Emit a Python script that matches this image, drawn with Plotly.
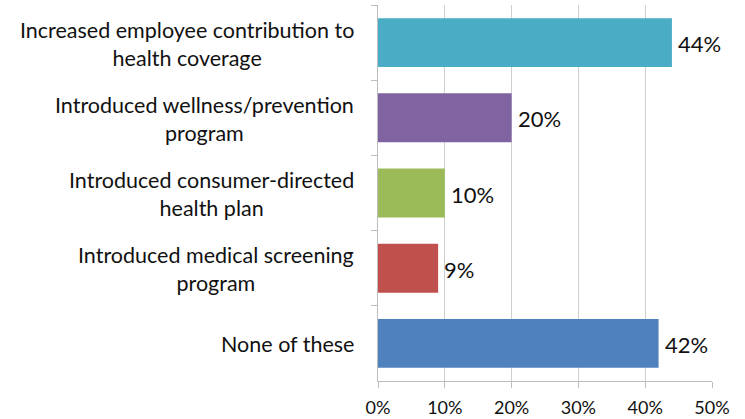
import plotly.graph_objects as go

categories = [
    "Increased employee contribution to<br>health coverage",
    "Introduced wellness/prevention<br>program",
    "Introduced consumer-directed<br>health plan",
    "Introduced medical screening<br>program",
    "None of these",
]
values = [44, 20, 10, 9, 42]
value_labels = ["44%", "20%", "10%", "9%", "42%"]
colors = ["#4BACC6", "#8064A2", "#9BBB59", "#C0504D", "#4F81BD"]
x_ticks = [0, 10, 20, 30, 40, 50]
x_tick_labels = ["0%", "10%", "20%", "30%", "40%", "50%"]

FONT = "Lato, 'Open Sans', sans-serif"

fig = go.Figure(
    go.Bar(
        y=categories,
        x=values,
        orientation="h",
        marker=dict(color=colors, line=dict(width=0)),
        width=0.65,
    )
)

# value labels just past the end of each bar
for cat, v, lab in zip(categories, values, value_labels):
    fig.add_annotation(
        x=v, xref="x", xanchor="left", xshift=4,
        y=cat, yref="y", yanchor="middle", yshift=-1,
        text=lab, showarrow=False,
        font=dict(size=22, color="#111111", family=FONT),
    )

# category labels: lines centered on each other, block right-aligned at the axis
for cat in categories:
    fig.add_annotation(
        x=0, xref="paper", xanchor="right", xshift=-22,
        y=cat, yref="y", yanchor="middle", yshift=-1,
        text=cat, showarrow=False, align="center",
        font=dict(size=21.5, color="#111111", family=FONT),
    )

fig.update_layout(
    width=745, height=419,
    margin=dict(l=378, r=33, t=5, b=38, autoexpand=False),
    paper_bgcolor="white", plot_bgcolor="white",
    showlegend=False,
    xaxis=dict(
        range=[0, 50], tickvals=x_ticks, ticktext=x_tick_labels,
        showgrid=True, gridcolor="#CFCFCF", gridwidth=1.3,
        showline=True, linecolor="#BDBDBD", linewidth=1.3,
        ticks="outside", ticklen=6, tickcolor="#BDBDBD",
        tickfont=dict(size=18, color="#111111", family=FONT),
        ticklabelstandoff=4, zeroline=False, automargin=False,
    ),
    yaxis=dict(
        autorange="reversed", categoryorder="array", categoryarray=categories,
        showticklabels=False, showgrid=False, automargin=False,
        showline=True, linecolor="#BDBDBD", linewidth=1.3,
        ticks="outside", ticklen=6, tickcolor="#BDBDBD", tickson="boundaries",
    ),
)

fig.write_html("out.html")
